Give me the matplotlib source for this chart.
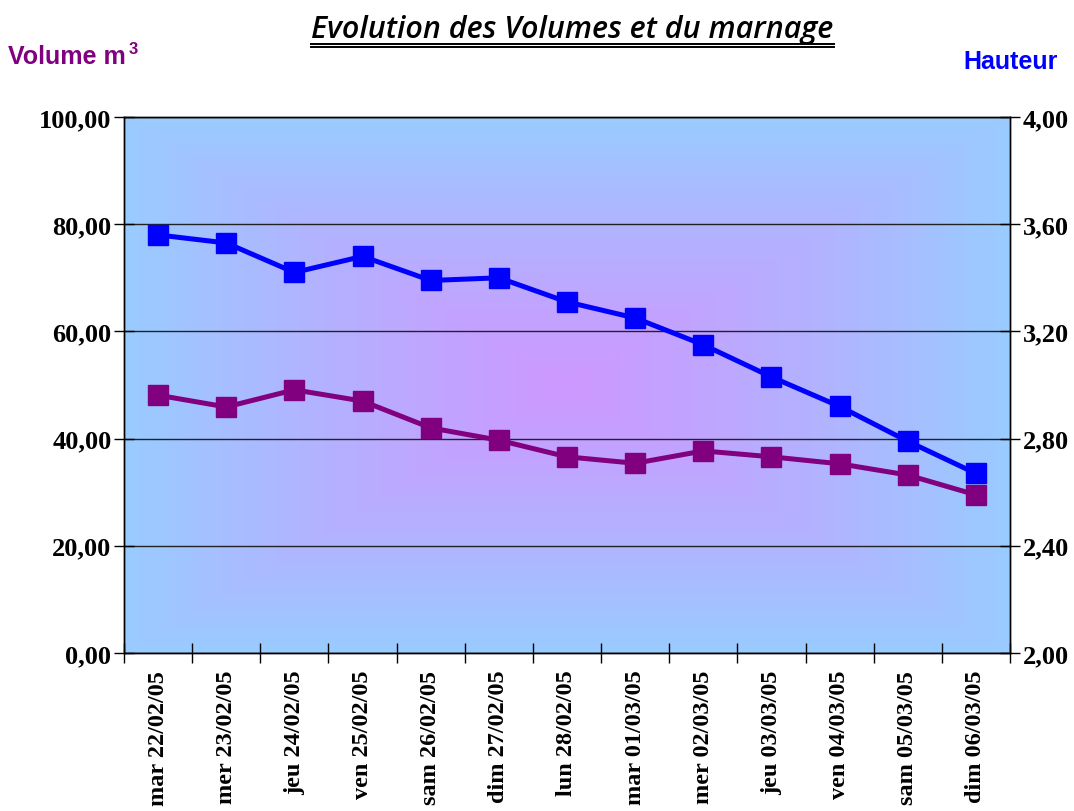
import numpy as np
import matplotlib
matplotlib.use('Agg')
import matplotlib.pyplot as plt
from matplotlib.ticker import FuncFormatter, MultipleLocator
from matplotlib.colors import to_rgb
from matplotlib.lines import Line2D

# data
dates = ['mar 22/02/05', 'mer 23/02/05', 'jeu 24/02/05', 'ven 25/02/05',
         'sam 26/02/05', 'dim 27/02/05', 'lun 28/02/05', 'mar 01/03/05',
         'mer 02/03/05', 'jeu 03/03/05', 'ven 04/03/05', 'sam 05/03/05',
         'dim 06/03/05']
volume = [48.1, 45.9, 49.1, 47.0, 42.0, 39.7, 36.6, 35.4, 37.7, 36.6, 35.3, 33.2, 29.5]
hauteur = [3.56, 3.53, 3.42, 3.48, 3.39, 3.40, 3.31, 3.25, 3.15, 3.03, 2.92, 2.79, 2.67]

serif = 'Liberation Serif'


def comma(v, pos):
    return f"{v:.2f}".replace('.', ',')


fig = plt.figure(figsize=(10.74, 8.12), dpi=100)
ax = fig.add_axes([124 / 1074, 1 - 654 / 812, 886 / 1074, 536 / 812])

# rectangular "from centre" gradient, lavender in the middle, light blue at edges
centre = np.array(to_rgb('#CC99FF'))
edge = np.array(to_rgb('#99CCFF'))
gx, gy = np.meshgrid(np.linspace(-1, 1, 400), np.linspace(-1, 1, 300))
t = np.maximum(np.abs(gx), np.abs(gy)) ** 1.2
img = centre[None, None, :] * (1 - t[..., None]) + edge[None, None, :] * t[..., None]
ax.imshow(img, extent=[0, 1, 0, 1], transform=ax.transAxes, aspect='auto', zorder=0)

x = np.arange(len(dates))
ax.set_xlim(-0.5, len(dates) - 0.5)
ax.set_ylim(0, 100)
ax.yaxis.set_major_locator(MultipleLocator(20))
ax.yaxis.set_major_formatter(FuncFormatter(comma))
ax.grid(axis='y', color='#222222', lw=1.0, zorder=1)
ax.set_axisbelow(False)

ax.set_xticks(np.arange(len(dates) + 1) - 0.5, minor=False)
ax.set_xticklabels([])
ax.set_xticks(x, minor=True)
ax.set_xticklabels(dates, minor=True, rotation=90, fontfamily=serif,
                   fontweight='bold', fontsize=17.5)
ax.tick_params(axis='x', which='minor', length=0, pad=12)
ax.tick_params(axis='x', which='major', direction='inout', length=14, width=1)
ax.tick_params(axis='y', direction='inout', length=14, width=1, pad=2)
for lab in ax.get_yticklabels():
    lab.set_fontfamily(serif)
    lab.set_fontweight('bold')
    lab.set_fontsize(19)

ax.plot(x, volume, color='#800080', lw=3.6, marker='s', markersize=14, zorder=3)

ax2 = ax.twinx()
ax2.set_ylim(2.0, 4.0)
ax2.yaxis.set_major_locator(MultipleLocator(0.4))
ax2.yaxis.set_major_formatter(FuncFormatter(comma))
ax2.tick_params(axis='y', direction='inout', length=14, width=1, pad=2)
for lab in ax2.get_yticklabels():
    lab.set_fontfamily(serif)
    lab.set_fontweight('bold')
    lab.set_fontsize(19)
ax2.plot(x, hauteur, color='#0000FF', lw=3.6, marker='s', markersize=14, zorder=3)

for a in (ax, ax2):
    for s in a.spines.values():
        s.set_color('black')
        s.set_linewidth(1)

# title with double underline
title = fig.text(0.533, 1 - 30 / 812, 'Evolution des Volumes et du marnage',
                 ha='center', va='center', fontsize=22, fontstyle='italic',
                 fontweight='semibold', fontfamily='Open Sans')
v_lab = fig.text(8 / 1074, 1 - 57 / 812, 'Volume m', ha='left', va='center',
                 fontsize=18, fontweight='bold', color='#800080',
                 fontfamily='Liberation Sans')
fig.canvas.draw()
bb = title.get_window_extent().transformed(fig.transFigure.inverted())
for yy in (1 - 44.5 / 812, 1 - 48 / 812):
    fig.add_artist(Line2D([bb.x0, bb.x1], [yy, yy], color='black', lw=1.4,
                          transform=fig.transFigure))
vb = v_lab.get_window_extent().transformed(fig.transFigure.inverted())
fig.text(vb.x1 + 3 / 1074, 1 - 49 / 812, '3', ha='left', va='center',
         fontsize=12, fontweight='bold', color='#800080', fontfamily='Liberation Sans')

fig.text(1058 / 1074, 1 - 62 / 812, 'Hauteur', ha='right', va='center',
         fontsize=18, fontweight='bold', color='#0000FF', fontfamily='Liberation Sans')

fig.savefig('out.png', dpi=100, facecolor='white')
